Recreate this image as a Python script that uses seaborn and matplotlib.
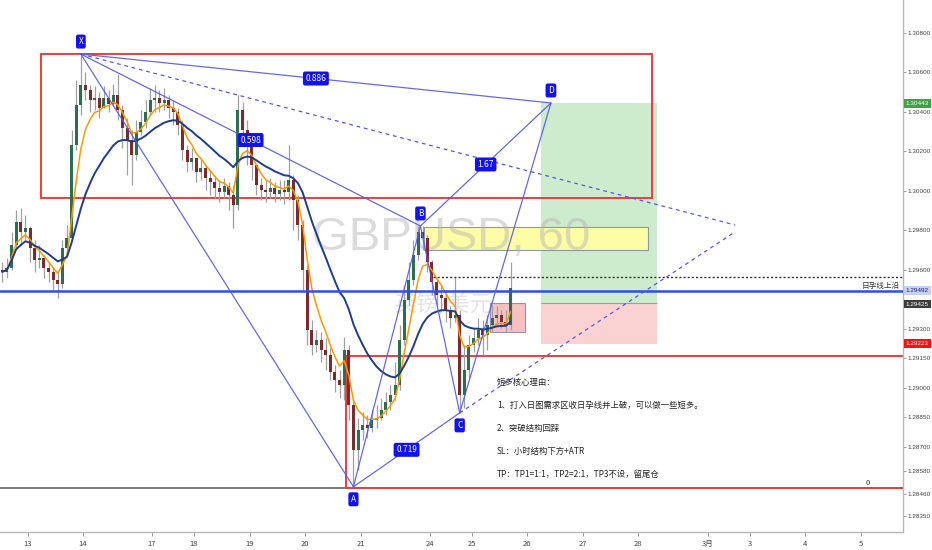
import numpy as np
import pandas as pd
import matplotlib
matplotlib.use('Agg')
import matplotlib.pyplot as plt
from matplotlib.patches import Rectangle
import seaborn as sns

sns.set_style('white')
plt.rcParams['font.family'] = ['Noto Sans CJK SC', 'DejaVu Sans']

# 2小时K线 (GBPUSD), 开盘价 = 上一根收盘价
first_open = 1.29598
closes = [
    1.29588, 1.29608, 1.29725, 1.29841, 1.29791, 1.29811, 1.29709, 1.29649, 1.29659, 1.29608,
    1.29588, 1.29547, 1.29527, 1.29709, 1.29760, 1.30232, 1.30434, 1.30536, 1.30511, 1.30460,
    1.30470, 1.30419, 1.30470, 1.30440, 1.30485, 1.30409, 1.30318, 1.30257, 1.30181, 1.30298,
    1.30348, 1.30399, 1.30460, 1.30470, 1.30445, 1.30460, 1.30419, 1.30399, 1.30333, 1.30206,
    1.30146, 1.30166, 1.30095, 1.30115, 1.30064, 1.30044, 1.30014, 1.29994, 1.30024, 1.29978,
    1.29928, 1.30409, 1.30308, 1.30232, 1.30130, 1.30029, 1.30004, 1.29994, 1.30014, 1.29983,
    1.30004, 1.29994, 1.30054, 1.29953, 1.29826, 1.29598, 1.29294, 1.29218, 1.29243, 1.29193,
    1.29167, 1.29081, 1.29040, 1.29015, 1.29193, 1.28914, 1.28685, 1.28787, 1.28812, 1.28797,
    1.28838, 1.28848, 1.28888, 1.28929, 1.28964, 1.29015, 1.29243, 1.29446, 1.29547, 1.29674,
    1.29791, 1.29760, 1.29639, 1.29537, 1.29471, 1.29456, 1.29395, 1.29355, 1.29370, 1.28964,
    1.29091, 1.29218, 1.29253, 1.29294, 1.29269, 1.29319, 1.29355, 1.29370, 1.29334, 1.29319,
    1.29507]
highs = [
    1.29639, 1.29659, 1.29791, 1.29902, 1.29912, 1.29877, 1.29821, 1.29750, 1.29725, 1.29674,
    1.29639, 1.29608, 1.29588, 1.29750, 1.29826, 1.30308, 1.30561, 1.30693, 1.30602, 1.30536,
    1.30531, 1.30500, 1.30531, 1.30511, 1.30541, 1.30592, 1.30434, 1.30369, 1.30308, 1.30359,
    1.30409, 1.30460, 1.30521, 1.30536, 1.30511, 1.30521, 1.30485, 1.30460, 1.30419, 1.30359,
    1.30232, 1.30217, 1.30166, 1.30166, 1.30130, 1.30105, 1.30075, 1.30054, 1.30064, 1.30044,
    1.30029, 1.30485, 1.30450, 1.30359, 1.30257, 1.30130, 1.30064, 1.30054, 1.30064, 1.30044,
    1.30054, 1.30054, 1.30232, 1.30080, 1.29978, 1.29852, 1.29623, 1.29345, 1.29294, 1.29284,
    1.29253, 1.29203, 1.29116, 1.29091, 1.29258, 1.29218, 1.28939, 1.28848, 1.28878, 1.28863,
    1.28888, 1.28914, 1.28949, 1.28980, 1.29015, 1.29132, 1.29319, 1.29522, 1.29639, 1.29750,
    1.29821, 1.29821, 1.29775, 1.29649, 1.29557, 1.29522, 1.29497, 1.29416, 1.29563, 1.29395,
    1.29218, 1.29269, 1.29304, 1.29355, 1.29345, 1.29370, 1.29421, 1.29416, 1.29395, 1.29395,
    1.29639]
lows = [
    1.29537, 1.29557, 1.29598, 1.29709, 1.29725, 1.29750, 1.29639, 1.29588, 1.29608, 1.29557,
    1.29537, 1.29497, 1.29456, 1.29507, 1.29674, 1.29750, 1.30206, 1.30384, 1.30460, 1.30399,
    1.30409, 1.30369, 1.30419, 1.30399, 1.30429, 1.30359, 1.30217, 1.30080, 1.30029, 1.30156,
    1.30283, 1.30318, 1.30384, 1.30399, 1.30399, 1.30409, 1.30369, 1.30333, 1.30283, 1.30156,
    1.30095, 1.30105, 1.30044, 1.30054, 1.30004, 1.29978, 1.29963, 1.29943, 1.29963, 1.29902,
    1.29811, 1.29902, 1.30257, 1.30130, 1.30054, 1.29978, 1.29953, 1.29943, 1.29963, 1.29943,
    1.29953, 1.29933, 1.29953, 1.29801, 1.29750, 1.29497, 1.29218, 1.29167, 1.29182, 1.29132,
    1.29091, 1.29040, 1.28980, 1.28949, 1.28939, 1.28838, 1.28498, 1.28584, 1.28736, 1.28746,
    1.28777, 1.28797, 1.28838, 1.28863, 1.28888, 1.28939, 1.28990, 1.29218, 1.29421, 1.29522,
    1.29649, 1.29699, 1.29588, 1.29471, 1.29421, 1.29385, 1.29334, 1.29304, 1.29334, 1.28873,
    1.28898, 1.29050, 1.29182, 1.29218, 1.29167, 1.29193, 1.29284, 1.29319, 1.29304, 1.29284,
    1.29294]

# 时间轴 (单位: 交易小时)
day_labels = ['13', '14', '17', '18', '19', '20', '21', '24', '25', '26', '27', '28', '3月', '3', '4', '5']
day_hours = [12.1, 35.9, 65.8, 84.0, 108.2, 132.0, 156.3, 186.1, 204.3, 228.1, 252.4, 276.2,
             306.5, 324.7, 348.5, 372.7]
price_ticks = [1.30800, 1.30600, 1.30400, 1.30200, 1.30000, 1.29800, 1.29600, 1.29300,
               1.29150, 1.29000, 1.28850, 1.28700, 1.28580, 1.28460, 1.28350]

# XABCD 形态
pattern_names = ['X', 'A', 'B', 'C', 'D']
pattern_hours = [35, 153, 182, 199, 238.5]
pattern_prices = [1.30693, 1.28498, 1.29821, 1.28873, 1.30445]
ratio_legs = [('X', 'B', '0.598'), ('X', 'D', '0.886'), ('B', 'D', '1.67'), ('A', 'C', '0.719')]

# 关键价位
daily_inside_top = 1.29492
entry_price = 1.29425
target_price = 1.30443
stop_price = 1.29223
supply_zone = (1.29963, 1.30693)
demand_zone = (1.28492, 1.29160)
yellow_zone = (1.29700, 1.29816)
pink_zone = (1.29284, 1.29431)
dotted_level = 1.29563

notes = ['短多核心理由：',
         '1、打入日图需求区收日孕线并上破，可以做一些短多。',
         '2、突破结构回踩',
         'SL：小时结构下方+ATR',
         'TP：TP1=1:1，TP2=2:1，TP3不设，留尾仓']

df = pd.DataFrame({'close': closes, 'high': highs, 'low': lows})
df['hour'] = np.arange(len(df)) * 2 + 1
df['open'] = [first_open] + closes[:-1]
df['fast'] = df['close'].ewm(span=5).mean()
df['slow'] = df['close'].ewm(span=18).mean()
up = (df['close'] >= df['open']).values

fig = plt.figure(figsize=(9.32, 5.5), dpi=100)
ax = fig.add_axes([0, 18 / 550, 903 / 932, 532 / 550])
x_max = 390.9
ax.set_xlim(0, x_max)
ax.set_ylim(1.282687, 1.309673)

# 区域
ax.add_patch(Rectangle((234.2, 1.29431), 50.2, target_price - 1.29431, fc='#cdebcd', ec='none', zorder=1))
ax.add_patch(Rectangle((234.2, stop_price), 50.2, 1.29431 - stop_price, fc='#fbd2d2', ec='none', zorder=1))
ax.hlines(1.29431, 234.2, 284.4, color='#9aa09a', lw=0.8, zorder=1)
ax.add_patch(Rectangle((183.5, yellow_zone[0]), 97.0, yellow_zone[1] - yellow_zone[0],
                       fc='#fdfda6', ec='#8c9aa0', lw=0.8, zorder=1.2))
ax.add_patch(Rectangle((212.1, pink_zone[0]), 15.2, pink_zone[1] - pink_zone[0],
                       fc='#f6b6b6', ec='#8080c8', lw=0.8, alpha=0.85, zorder=1.5))
ax.add_patch(Rectangle((17.7, supply_zone[0]), 264.6, supply_zone[1] - supply_zone[0],
                       fc='none', ec='#f23b3b', lw=1.4, zorder=2))
ax.axhline(demand_zone[0], color='#555555', lw=1.1, zorder=2)
ax.add_patch(Rectangle((149.8, demand_zone[0]), 260, demand_zone[1] - demand_zone[0],
                       fc='none', ec='#f23b3b', lw=1.4, zorder=2.1))

# 水印
ax.text(451 / 903, 1 - 238 / 532, 'GBPUSD, 60', transform=ax.transAxes, ha='center', va='center',
        fontsize=34, color='#b4b4b4', alpha=0.48, family='Liberation Sans', zorder=1.6)
ax.text(443 / 903, 1 - 305 / 532, '英镑/美元', transform=ax.transAxes, ha='center', va='center',
        fontsize=16, color='#c4c4c4', alpha=0.45, zorder=1.6)

# K线
ax.vlines(df['hour'], df['low'], df['high'], color='#a0a0a0', lw=0.9, zorder=3)
body = (df['close'] - df['open']).abs().clip(lower=0.00003)
ax.bar(df['hour'], body, bottom=np.minimum(df['open'], df['close']), width=1.3,
       color=np.where(up, '#2b6e52', '#7d2a2a'), linewidth=0, zorder=4)

sns.lineplot(data=df, x='hour', y='fast', color='#ff9800', lw=1.1, ax=ax, zorder=5)
sns.lineplot(data=df, x='hour', y='slow', color='#1d3d8f', lw=1.4, ax=ax, zorder=5)
ax.set_xlabel('')
ax.set_ylabel('')

# 水平线
ax.axhline(daily_inside_top, color='#2f4cf0', lw=1.8, zorder=6)
ax.text(389.5, daily_inside_top + 0.00004, '日孕线上沿', ha='right', va='bottom', fontsize=5.5,
        color='#333333', zorder=7)
ax.hlines(dotted_level, 187.4, x_max, color='#333333', lw=1, linestyles=(0, (1.5, 1.5)), zorder=6)
ax.text(375.8, demand_zone[0] + 0.00005, '0', ha='center', va='bottom', fontsize=5.5, color='#333333')

# 形态线
pts = {n: (h, p) for n, h, p in zip(pattern_names, pattern_hours, pattern_prices)}
legs = [('X', 'A'), ('A', 'B'), ('B', 'C'), ('C', 'D'), ('X', 'B'), ('B', 'D'), ('X', 'D'), ('A', 'C')]
for a, b in legs:
    ax.plot([pts[a][0], pts[b][0]], [pts[a][1], pts[b][1]], color='#5656ee', lw=0.9, alpha=0.9, zorder=6)
ax.plot([pts['X'][0], 318.2], [pts['X'][1], 1.29826], color='#5656ee', lw=0.9, ls=(0, (3, 3)), zorder=6)
ax.plot([pts['C'][0], 318.2], [pts['C'][1], 1.29791], color='#5656ee', lw=0.9, ls=(0, (3, 3)), zorder=6)

box = dict(boxstyle='round,pad=0.3,rounding_size=0.25', fc='#1111f2', ec='none')
for a, b, r in ratio_legs:
    mx = (pts[a][0] + pts[b][0]) / 2
    my = (pts[a][1] + pts[b][1]) / 2
    ax.text(mx, my, r, ha='center', va='center', fontsize=6, color='white', bbox=box, zorder=8)
for n in pattern_names:
    dy = -9 if n in ('A', 'C') else 9
    ax.annotate(n, pts[n], xytext=(0, dy), textcoords='offset points', ha='center', va='center',
                fontsize=6, color='white', bbox=box, zorder=8)

# 说明文字
for k, line in enumerate(notes):
    ax.text(497 / 903, 1 - (382 + 23 * k) / 532, line, transform=ax.transAxes, fontsize=6,
            ha='left', va='center', color='#222222', zorder=8)

# 坐标轴
for s in ['top', 'left']:
    ax.spines[s].set_visible(False)
for s in ['right', 'bottom']:
    ax.spines[s].set_color('#b8b8b8')
    ax.spines[s].set_linewidth(1)
ax.yaxis.tick_right()
ax.set_yticks(price_ticks)
ax.set_yticklabels([f'{p:.5f}' for p in price_ticks])
ax.set_xticks(day_hours)
ax.set_xticklabels(day_labels)
ax.tick_params(axis='y', right=True, left=False, length=2, width=0.6, color='#888888',
               labelsize=4.6, labelcolor='#444444', pad=1)
ax.tick_params(axis='x', bottom=True, length=3, width=0.6, color='#888888',
               labelsize=5.5, labelcolor='#444444', pad=3)
for lbl in ax.get_yticklabels():
    lbl.set_family('Liberation Sans')
ax.grid(False)

ytrans = ax.get_yaxis_transform()
axis_tags = [(target_price, '#43a047', 'white'), (daily_inside_top, '#c7d0f4', '#1a237e'),
             (entry_price, '#3c3c3c', 'white'), (stop_price, '#f01414', 'white')]
for price, fc, tc in axis_tags:
    ax.text(1.003, price, f'{price:.5f}', transform=ytrans, ha='left', va='center', fontsize=4.6,
            color=tc, family='Liberation Sans', clip_on=False, zorder=10,
            bbox=dict(boxstyle='square,pad=0.3', fc=fc, ec='none'))

fig.savefig('out.png', dpi=100)
